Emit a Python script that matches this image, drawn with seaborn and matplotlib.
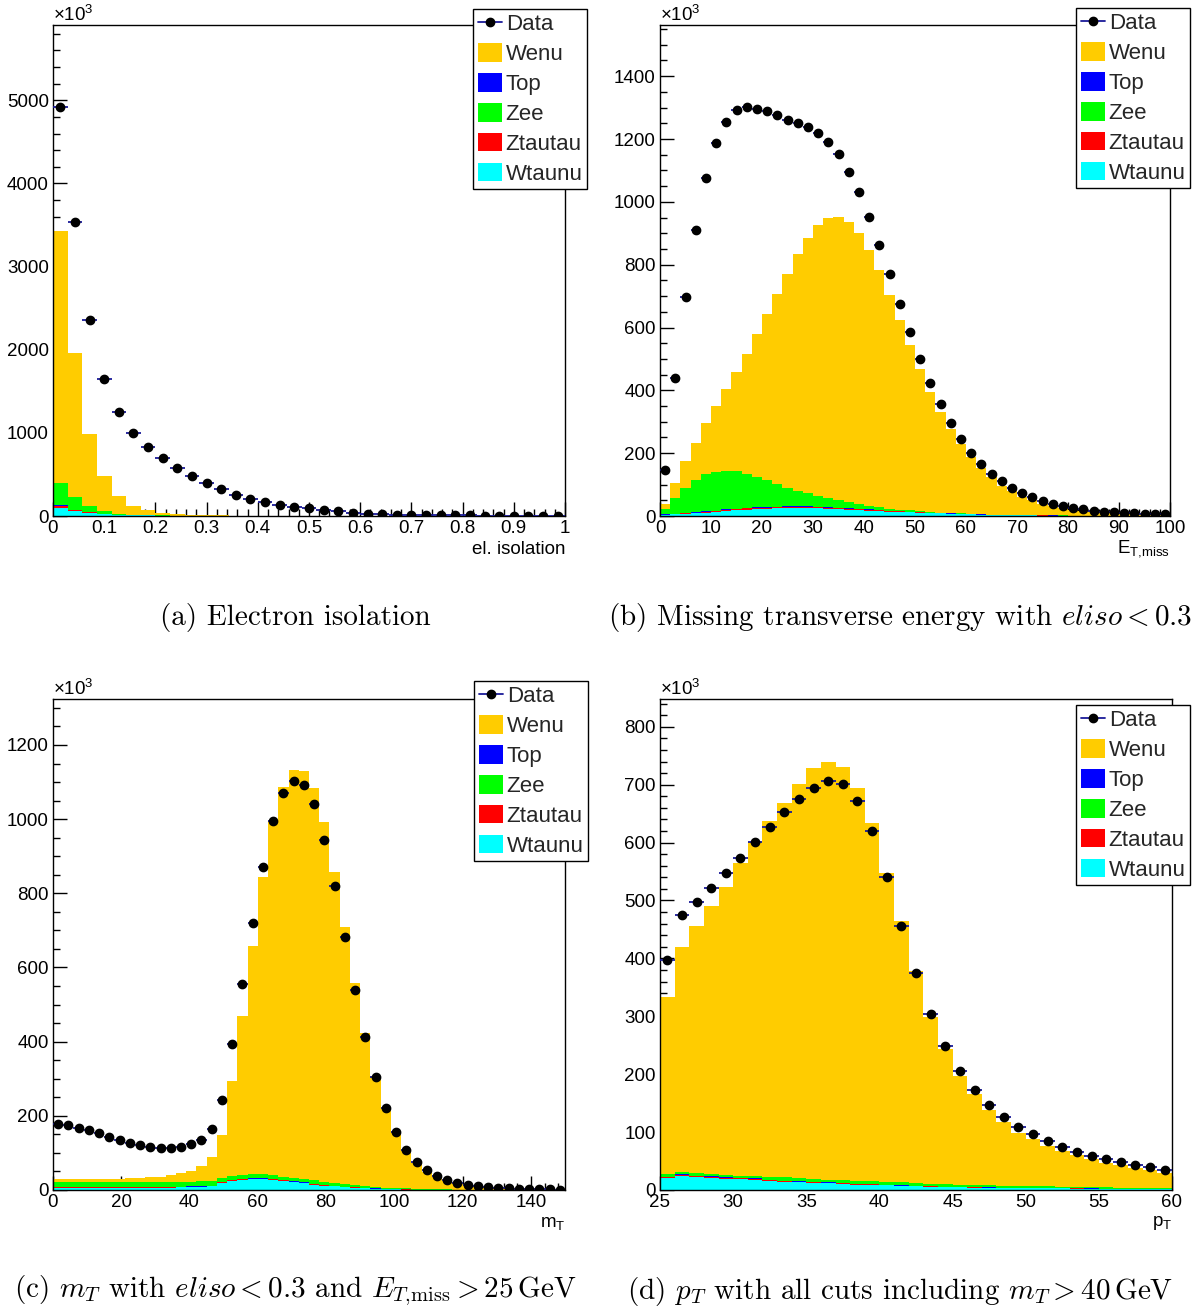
import numpy as np
import pandas as pd
import matplotlib
matplotlib.use("Agg")
import matplotlib.pyplot as plt
import seaborn as sns
from matplotlib.lines import Line2D
from matplotlib.patches import Patch
from matplotlib.ticker import MultipleLocator, FuncFormatter

# ---------------- data (values in units of 10^3 events) ----------------
processes = ["Wenu", "Top", "Zee", "Ztautau", "Wtaunu"]
stack_order = ["Wenu", "Zee", "Top", "Ztautau", "Wtaunu"]  # first = top of stack
colors = {"Wenu": "#ffcc00", "Top": "#0000ff", "Zee": "#00ff00",
          "Ztautau": "#ff0000", "Wtaunu": "#00ffff"}

# (a) electron isolation, 35 bins 0..1
data_a = [4922, 3531, 2360, 1645, 1245, 995, 827, 693, 577, 482, 396, 323, 258, 207, 164, 129, 110, 94,
          74, 56, 40, 28, 20, 15, 12, 10, 9, 8, 7, 6, 6, 5, 5, 5, 4]
wenu_a = [3024, 1736, 874, 431, 207, 108, 59, 33, 18, 10, 6, 4, 2.5, 1.5, 1, 0.8, 0.6, 0.5,
          0.4, 0.3, 0.3, 0.2, 0.2, 0.2, 0.1, 0.1, 0.1, 0.1, 0.1, 0.1, 0.1, 0.1, 0.1, 0.1, 0.1]
zee_a = [271, 146, 69, 26, 12, 5, 2.2, 1, 0.5, 0.3, 0.2, 0.2, 0.1, 0.1, 0.1, 0.1, 0.1, 0.1,
         0.1, 0.1, 0.1, 0.1, 0.1, 0.1, 0.1, 0.1, 0.1, 0.1, 0.1, 0.1, 0.1, 0.1, 0.1, 0.1, 0.1]
top_a = [12, 5, 3, 1, 0.5, 0.4, 0.3, 0.2, 0.2, 0.1, 0.1, 0.1, 0.1, 0.1, 0.1, 0.1, 0.1, 0.1,
         0.1, 0.1, 0.1, 0.1, 0.1, 0.1, 0.1, 0.1, 0.1, 0.1, 0.1, 0.1, 0.1, 0.1, 0.1, 0.1, 0.1]
ztautau_a = [17, 8, 5, 3, 1.5, 0.8, 0.5, 0.3, 0.2, 0.1, 0.1, 0.1, 0.1, 0.1, 0.1, 0.1, 0.1, 0.1,
             0.1, 0.1, 0.1, 0.1, 0.1, 0.1, 0.1, 0.1, 0.1, 0.1, 0.1, 0.1, 0.1, 0.1, 0.1, 0.1, 0.1]
wtaunu_a = [100, 65, 39, 26, 16, 11, 7, 5, 4, 3, 3, 2.5, 2.2, 2, 1.8, 1.6, 1.5, 1.4,
            1.3, 1.2, 1.1, 1.0, 1.0, 0.9, 0.9, 0.8, 0.8, 0.7, 0.7, 0.7, 0.6, 0.6, 0.6, 0.5, 0.5]

# (b) missing transverse energy, 50 bins 0..100
data_b = [148, 438, 697, 911, 1075, 1187, 1255, 1292, 1303, 1297, 1288, 1275, 1262, 1251, 1237, 1218,
          1189, 1151, 1096, 1031, 951, 863, 769, 676, 586, 500, 422, 355, 296, 244, 201, 164, 135, 110,
          89, 73, 59, 49, 39, 31, 26, 21, 17, 14, 12, 9, 8, 7, 6, 6]
wenu_b = [16, 48, 84, 118, 161, 209, 259, 317, 383, 454, 528, 605, 681, 753, 812, 861, 891, 902, 893,
          862, 817, 755, 681, 603, 527, 452, 381, 320, 267, 220, 181, 147, 118, 92, 75, 58, 47, 36.5,
          28.5, 23, 19, 15, 13, 11, 9, 7, 6, 5, 4, 4]
zee_b = [16, 51, 81, 104, 119, 123, 124, 119, 107, 97, 85, 72, 59, 50, 43, 36, 30, 23, 19, 14, 10, 8,
         6, 4.5, 3.5, 2.8, 2.2, 1.8, 1.4, 1.1, 0.9, 0.7, 0.6, 0.5, 0.4, 0.3, 0.3, 0.2, 0.2, 0.2, 0.1,
         0.1, 0.1, 0.1, 0.1, 0.1, 0.1, 0.1, 0.1, 0.1]
top_b = [0.3, 0.5, 0.7, 0.9, 1, 1, 1.2, 1.3, 1.5, 1.6, 1.7, 1.8, 1.8, 1.8, 1.8, 1.7, 1.6, 1.5, 1.4,
         1.3, 1.2, 1.1, 1, 0.9, 0.8, 0.7, 0.6, 0.5, 0.4, 0.4, 0.3, 0.3, 0.2, 0.2, 0.2, 0.1, 0.1, 0.1,
         0.1, 0.1, 0.1, 0.1, 0.1, 0.1, 0.1, 0.1, 0.1, 0.1, 0.1, 0.1]
ztautau_b = [0.5, 1, 1.5, 2, 2.5, 3, 3.5, 3.8, 4, 4, 4, 4, 4, 4, 3.5, 3.5, 3.5, 3.5, 3, 3, 3, 2.5,
             2.5, 2, 1.5, 1.5, 1.2, 0.8, 0.7, 0.6, 0.5, 0.5, 0.4, 0.4, 0.3, 0.3, 0.2, 0.2, 0.2, 0.2,
             0.1, 0.1, 0.1, 0.1, 0.1, 0.1, 0.1, 0.1, 0.1, 0.1]
wtaunu_b = [4, 5, 7, 9, 11, 13, 16, 18, 20, 22, 23, 24, 25, 25, 25, 24, 23, 22, 20, 19, 17, 16, 14,
            13, 12, 10, 9, 8, 7, 6, 5, 4, 3.5, 3, 2.5, 2.2, 1.8, 1.5, 1.3, 1.1, 1, 0.9, 0.8, 0.7,
            0.6, 0.6, 0.5, 0.5, 0.4, 0.4]

# (c) transverse mass, 50 bins 0..150
data_c = [179, 175, 168, 162, 153, 144, 136, 126, 120, 115, 112, 112, 115, 123, 136, 165, 242, 394,
          556, 720, 872, 994, 1070, 1103, 1091, 1041, 945, 820, 681, 539, 413, 306, 221, 157, 109, 76,
          53, 37, 26, 19, 14, 11, 8, 6, 5, 3, 2, 2, 1.5, 1]
wenu_c = [7, 7, 8, 8, 9, 10, 10, 11, 12, 13, 15, 19, 24, 30, 41, 63, 116, 255, 427, 615, 801, 955,
          1051, 1100, 1100, 1057, 970, 839, 693, 547, 414, 299, 215, 150, 103, 70, 46.5, 33, 23.5,
          17, 13, 10, 7.4, 5.5, 4.6, 3.7, 2.7, 1.8, 1.8, 0.8]
zee_c = [13, 13, 13, 13, 12, 12, 12, 12, 12, 12, 12, 12, 13, 12, 13, 13, 10, 11, 11, 10, 10, 10, 9,
         10, 10, 10, 9, 7, 6, 5, 5, 4, 3, 3, 2.5, 1.8, 1.5, 1.2, 0.9, 0.7, 0.6, 0.5, 0.4, 0.3, 0.2,
         0.2, 0.2, 0.1, 0.1, 0.1]
top_c = [1, 1, 1, 1, 1, 1, 1, 1, 1, 1, 1, 1, 0.8, 1, 1, 1, 1, 1, 1, 1, 1, 1, 1, 0.9, 0.8, 0.8, 0.7,
         0.6, 0.5, 0.4, 0.3, 0.3, 0.2, 0.1, 0.1, 0.1, 0.1, 0.1, 0.1, 0.1, 0.1, 0.1, 0.1, 0.1, 0.1,
         0.1, 0.1, 0.1, 0.1, 0.1]
ztautau_c = [1.5, 1.5, 1.5, 1.5, 1.5, 1.5, 1.5, 1.5, 1.5, 1.5, 1.5, 1.5, 1.2, 1.5, 1.5, 1.5, 2, 2, 2,
             2, 2, 2, 2, 1.5, 1.5, 1.2, 1, 0.8, 0.7, 0.6, 0.4, 0.4, 0.3, 0.2, 0.2, 0.1, 0.1, 0.1, 0.1,
             0.1, 0.1, 0.1, 0.1, 0.1, 0.1, 0.1, 0.1, 0.1, 0.1, 0.1]
wtaunu_c = [6.5, 6.5, 6.5, 6.5, 6.5, 6.5, 6.5, 6.5, 6.5, 6.5, 6.5, 6.5, 7, 7.5, 7.5, 9.5, 19, 24, 27,
            29, 29, 27, 24, 21, 18, 14.5, 11.5, 10, 8, 6.2, 4.5, 3.5, 2.6, 1.8, 1.3, 1, 0.8, 0.6, 0.5,
            0.4, 0.3, 0.3, 0.2, 0.2, 0.2, 0.1, 0.1, 0.1, 0.1, 0.1]

# (d) electron transverse momentum, 35 bins 25..60
data_d = [397, 475, 498, 521, 547, 573, 601, 627, 653, 676, 695, 706, 701, 672, 620, 541, 456, 374,
          304, 248, 205, 173, 146, 126, 109, 96, 85, 74, 65, 59, 53, 48, 43, 39, 35]
wenu_d = [306, 388, 426, 462, 498, 539, 577, 614, 647, 681, 710, 721, 713, 679, 619, 533, 451, 366,
          288, 233, 188, 156.5, 130, 109.5, 92, 81.5, 70, 61.5, 55, 49.5, 42.5, 39, 34, 30.5, 25.5]
zee_d = [5, 4, 5, 4, 4, 4, 4, 5, 6, 5, 5, 5, 5, 6, 5, 5, 5, 5, 4.5, 4, 3.5, 3.5, 3.5, 3.5, 3.2, 3,
         2.8, 2.5, 2.2, 1.9, 2.1, 1.8, 2, 1.6, 1.7]
top_d = [1, 1, 1, 1, 0.9, 0.9, 0.9, 0.8, 0.7, 0.7, 0.6, 0.6, 0.6, 0.5, 0.5, 0.5, 0.4, 0.4, 0.3, 0.3,
         0.3, 0.3, 0.2, 0.2, 0.2, 0.2, 0.2, 0.2, 0.2, 0.2, 0.1, 0.1, 0.1, 0.1, 0.1]
ztautau_d = [1.5, 1.5, 1.5, 1.5, 1.4, 1.3, 1.3, 1.2, 1.1, 1, 1, 0.9, 0.8, 0.7, 0.7, 0.6, 0.6, 0.5, 0.5,
             0.5, 0.4, 0.4, 0.4, 0.3, 0.3, 0.3, 0.3, 0.3, 0.3, 0.3, 0.2, 0.2, 0.2, 0.2, 0.2]
wtaunu_d = [20.5, 24.5, 22.5, 21.5, 19.7, 18.8, 17.8, 16, 14.2, 13.3, 12.4, 11.5, 10.6, 8.8, 8.8, 7.9,
            7, 6.1, 5.7, 5.2, 4.8, 4.3, 3.9, 3.5, 3.3, 3, 2.8, 2.6, 2.4, 2.2, 2.1, 1.9, 1.7, 1.6, 1.5]

captions = [r"(a) Electron isolation",
            r"(b) Missing transverse energy with $eliso < 0.3$",
            r"(c) $m_T$ with $eliso < 0.3$ and $E_{T{,}\mathrm{miss}} > 25\,\mathrm{GeV}$",
            r"(d) $p_T$ with all cuts including $m_T > 40\,\mathrm{GeV}$"]
xlabels = ["el. isolation", r"E$_{\mathrm{T{,}miss}}$", r"m$_{\mathrm{T}}$", r"p$_{\mathrm{T}}$"]

# ---------------- style ----------------
sns.set_theme(style="white")
plt.rcParams["font.family"] = ["Liberation Sans", "DejaVu Sans"]
plt.rcParams["mathtext.fontset"] = "custom"
plt.rcParams["mathtext.rm"] = "Liberation Sans"
plt.rcParams["mathtext.it"] = "Liberation Sans:italic"
plt.rcParams["mathtext.bf"] = "Liberation Sans:bold"

W, H = 1197, 1309
fig = plt.figure(figsize=(W / 100, H / 100), dpi=100)
fig.patch.set_facecolor("white")


def px_axes(l, t, r, b):
    return fig.add_axes([l / W, 1 - b / H, (r - l) / W, (b - t) / H])


panels = [
    dict(box=(53, 25, 565, 516), rng=(0, 1), data=data_a,
         comps=dict(Wenu=wenu_a, Top=top_a, Zee=zee_a, Ztautau=ztautau_a, Wtaunu=wtaunu_a),
         ymax=5906, ymaj=1000, ymin=200, xmaj=0.1, xmin=0.02,
         leg=(587, 9), cap=(295, 617)),
    dict(box=(660, 25, 1170, 516), rng=(0, 100), data=data_b,
         comps=dict(Wenu=wenu_b, Top=top_b, Zee=zee_b, Ztautau=ztautau_b, Wtaunu=wtaunu_b),
         ymax=1563, ymaj=200, ymin=50, xmaj=10, xmin=2,
         leg=(1190, 8), cap=(900, 617)),
    dict(box=(53, 699, 565, 1190), rng=(0, 150), data=data_c,
         comps=dict(Wenu=wenu_c, Top=top_c, Zee=zee_c, Ztautau=ztautau_c, Wtaunu=wtaunu_c),
         ymax=1324, ymaj=200, ymin=50, xmaj=20, xmin=4,
         leg=(588, 681), cap=(295, 1291)),
    dict(box=(660, 699, 1172, 1190), rng=(25, 60), data=data_d,
         comps=dict(Wenu=wenu_d, Top=top_d, Zee=zee_d, Ztautau=ztautau_d, Wtaunu=wtaunu_d),
         ymax=848, ymaj=100, ymin=20, xmaj=5, xmin=1,
         leg=(1190, 705), cap=(900, 1291)),
]

data_color = "#1a1a99"

for i, p in enumerate(panels):
    l, t, r, b = p["box"]
    ax = px_axes(l, t, r, b)
    lo, hi = p["rng"]
    nb = len(p["data"])
    width = (hi - lo) / nb
    centers = lo + width * (np.arange(nb) + 0.5)
    frames = []
    for name, vals in p["comps"].items():
        frames.append(pd.DataFrame({"x": centers, "w": np.asarray(vals, float), "process": name}))
    df = pd.concat(frames, ignore_index=True)
    sns.histplot(data=df, x="x", weights="w", hue="process", hue_order=stack_order,
                 multiple="stack", bins=nb, binrange=(lo, hi), element="step", fill=True,
                 palette=colors, alpha=1, linewidth=0, legend=False, ax=ax)
    ax.errorbar(centers, p["data"], xerr=width / 2, fmt="o", ms=6,
                mfc="black", mec="black", ecolor=data_color, elinewidth=1.3,
                capsize=0, zorder=5, clip_on=True)
    ax.set_xlim(lo, hi)
    ax.set_ylim(0, p["ymax"])
    ax.set_xlabel("")
    ax.set_ylabel("")
    ax.set_axisbelow(True)
    ax.xaxis.set_major_locator(MultipleLocator(p["xmaj"]))
    ax.xaxis.set_minor_locator(MultipleLocator(p["xmin"]))
    ax.yaxis.set_major_locator(MultipleLocator(p["ymaj"]))
    ax.yaxis.set_minor_locator(MultipleLocator(p["ymin"]))
    ax.xaxis.set_major_formatter(FuncFormatter(lambda v, pos: f"{v:g}"))
    ax.yaxis.set_major_formatter(FuncFormatter(lambda v, pos: f"{v:g}"))
    ax.tick_params(which="both", direction="in", left=True, bottom=True,
                   right=False, top=False, colors="black", labelsize=13.5, width=1)
    ax.tick_params(which="major", length=10)
    ax.tick_params(which="minor", length=5)
    ax.tick_params(axis="y", pad=3)
    ax.tick_params(axis="x", pad=3)
    for s in ax.spines.values():
        s.set_color("black")
        s.set_linewidth(1.0)
        s.set_visible(True)

    # x10^3 multiplier
    fig.text(l / W, 1 - (t - 10) / H, r"$\times$10$^{3}$", fontsize=13.5, ha="left",
             va="center", color="black")
    # axis title
    fig.text(r / W, 1 - (b + 33) / H, xlabels[i], fontsize=13.5, ha="right",
             va="center", color="black")

    # legend
    handles = [Line2D([], [], color=data_color, lw=1.3, marker="o", ms=6,
                      mfc="black", mec="black")]
    handles += [Patch(facecolor=colors[n], edgecolor="none") for n in processes]
    labels = ["Data"] + processes
    lx, ly = p["leg"]
    leg = fig.legend(handles, labels, loc="upper right",
                     bbox_to_anchor=(lx / W, 1 - ly / H), frameon=True, fancybox=False,
                     edgecolor="black", framealpha=1, fontsize=16, handlelength=1.1,
                     handleheight=0.9, handletextpad=0.15, labelspacing=0.36,
                     borderpad=0.2, borderaxespad=0)
    leg.get_frame().set_linewidth(1.0)

    # caption
    cx, cy = p["cap"]
    fig.text(cx / W, 1 - cy / H, captions[i], fontsize=21, ha="center", va="center",
             family="cmr10", math_fontfamily="cm", color="black")

fig.savefig("out.png", dpi=100, facecolor="white")
